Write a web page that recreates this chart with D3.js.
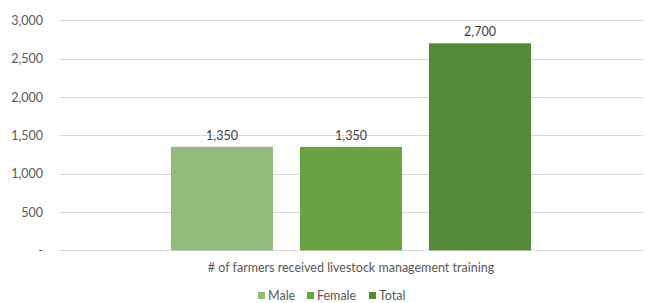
<!DOCTYPE html>
<html>
<head>
<meta charset="utf-8">
<script src="https://cdn.jsdelivr.net/npm/d3@7"></script>
<style>
  body { margin: 0; background: #fff; }
  text { font-family: Lato, "Open Sans", sans-serif; fill: #595959; }
</style>
</head>
<body>
<svg id="vis" width="647" height="303"></svg>
<script>
// chart data
var category = "# of farmers received livestock management training";
var seriesNames = ["Male", "Female", "Total"];
var seriesValues = [1350, 1350, 2700];
var seriesColors = ["#92bb7c", "#69a243", "#548a37"];
var yTicks = [0, 500, 1000, 1500, 2000, 2500, 3000];

var svg = d3.select("#vis");

// plot area edges (don't use "top", it clashes with window.top)
var plotLeft = 59, plotRight = 643, plotTop = 20.3, plotBottom = 250.4;

var y = d3.scaleLinear()
    .domain([0, 3000])
    .range([plotBottom, plotTop]);

// category band, then series inside it
var x0 = d3.scaleBand()
    .domain([category])
    .range([plotLeft, plotRight])
    .paddingInner(0)
    .paddingOuter(0.311);

var x1 = d3.scaleBand()
    .domain(seriesNames)
    .range([0, x0.bandwidth()])
    .paddingInner(0.209)
    .paddingOuter(0);

// gridlines
svg.append("g")
    .selectAll("line")
    .data(yTicks)
    .enter()
    .append("line")
    .attr("x1", plotLeft)
    .attr("x2", plotRight)
    .attr("y1", d => Math.round(y(d)) + 0.5)
    .attr("y2", d => Math.round(y(d)) + 0.5)
    .attr("stroke", "#d9d9d9")
    .attr("stroke-width", 1);

// y axis labels
var yAxis = d3.axisLeft(y)
    .tickValues(yTicks)
    .tickSize(0)
    .tickPadding(0)
    .tickFormat(d => d === 0 ? "-" : d3.format(",")(d));

var yg = svg.append("g")
    .attr("transform", "translate(" + 43 + ",0)")
    .call(yAxis);
yg.select(".domain").remove();
yg.selectAll("text")
    .attr("fill", "#595959")
    .style("font-size", "12.5px")
    .style("font-family", "Lato, 'Open Sans', sans-serif");

// bars
var barGroup = svg.append("g")
    .attr("transform", "translate(" + x0(category) + ",0)");

barGroup.selectAll("rect")
    .data(seriesValues)
    .enter()
    .append("rect")
    .attr("x", (d, i) => x1(seriesNames[i]))
    .attr("y", d => y(d))
    .attr("width", x1.bandwidth())
    .attr("height", d => y(0) - y(d))
    .attr("fill", (d, i) => seriesColors[i]);

// value labels
barGroup.selectAll("text.value")
    .data(seriesValues)
    .enter()
    .append("text")
    .attr("class", "value")
    .attr("x", (d, i) => x1(seriesNames[i]) + x1.bandwidth() / 2)
    .attr("y", d => y(d) - 7)
    .attr("text-anchor", "middle")
    .style("font-size", "12.5px")
    .style("fill", "#404040")
    .text(d => d3.format(",")(d));

// category label
svg.append("text")
    .attr("x", x0(category) + x0.bandwidth() / 2)
    .attr("y", 272)
    .attr("text-anchor", "middle")
    .style("font-size", "12.5px")
    .text(category);

// legend
var legendX = [258, 307, 369];
var legend = svg.append("g");
var item = legend.selectAll("g")
    .data(seriesNames)
    .enter()
    .append("g")
    .attr("transform", (d, i) => "translate(" + legendX[i] + ",292)");

item.append("rect")
    .attr("width", 7)
    .attr("height", 7)
    .attr("fill", (d, i) => seriesColors[i]);

item.append("text")
    .attr("x", 10)
    .attr("y", 8)
    .style("font-size", "12.5px")
    .text(d => d);
</script>
</body>
</html>
